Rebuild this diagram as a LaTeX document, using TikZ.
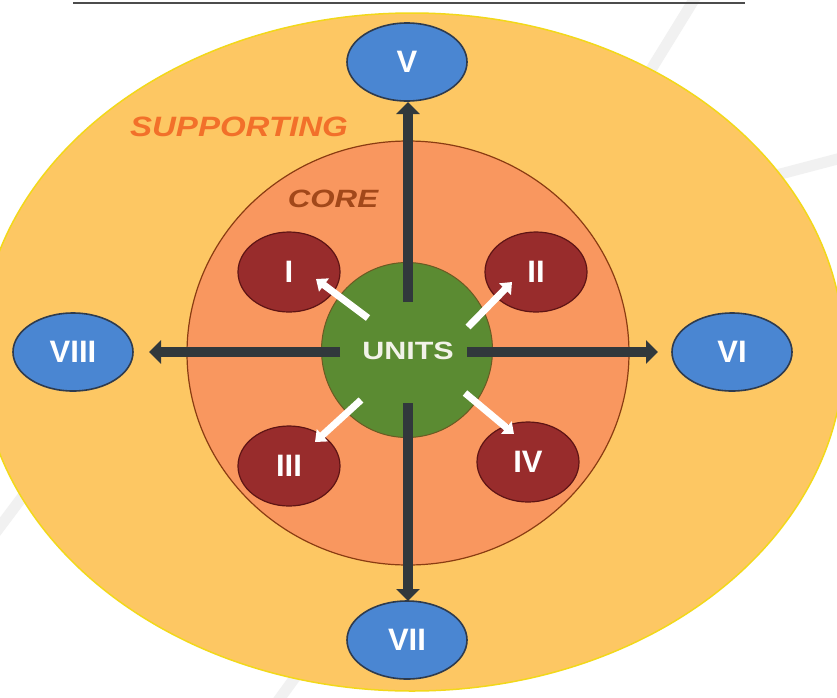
\documentclass[tikz,border=0pt]{standalone}
\usepackage{fontspec}
\setmainfont{Liberation Sans}
\usepackage{graphicx}
\usetikzlibrary{shapes.geometric,arrows.meta}
\definecolor{outery}{HTML}{FDC763}
\definecolor{outeredge}{HTML}{F2D81A}
\definecolor{coreor}{HTML}{F9975F}
\definecolor{coreedge}{HTML}{8A3C12}
\definecolor{unitgreen}{HTML}{5B8B32}
\definecolor{unitedge}{HTML}{6B5A22}
\definecolor{redunit}{HTML}{982C2C}
\definecolor{rededge}{HTML}{5E1414}
\definecolor{blueunit}{HTML}{4A86D2}
\definecolor{blueedge}{HTML}{2E3B4E}
\definecolor{darkarrow}{HTML}{31383C}
\definecolor{supcol}{HTML}{F2702A}
\definecolor{corecol}{HTML}{A2481A}
\definecolor{wm}{HTML}{F1F1F1}
\tikzset{
  redell/.style={ellipse, fill=redunit, draw=rededge, line width=1.2pt, minimum width=102pt, minimum height=80pt, inner sep=0pt, text=white, font=\fontsize{31}{31}\selectfont\bfseries},
  blueell/.style={ellipse, fill=blueunit, draw=blueedge, line width=1.6pt, minimum width=120pt, minimum height=78pt, inner sep=0pt, text=white, font=\fontsize{31}{31}\selectfont\bfseries},
  darkarr/.style={draw=darkarrow, line width=10pt, -{Triangle[width=23pt,length=12pt]}},
  whitearr/.style={draw=white, line width=7pt, -{Triangle[width=16pt,length=10pt]}},
  wmband/.style={draw=wm, line width=11pt}
}
\begin{document}
\begin{tikzpicture}[x=1pt,y=-1pt]
\useasboundingbox (0,0) rectangle (837,697);
\fill[white] (0,0) rectangle (837,697);
% faint watermark bands
\draw[wmband] (700,-10) -- (620,120);
\draw[wmband] (845,157) -- (750,182);
\draw[wmband] (-10,540) -- (50,460);
\draw[wmband] (275,705) -- (315,650);
% top rule
\draw[draw=black!70, line width=2pt] (73,3) -- (745,3);
% outer supporting ellipse
\node (outer) [ellipse, fill=outery, draw=outeredge, line width=1.5pt, minimum width=864pt, minimum height=678pt, inner sep=0pt] at (412,352) {};
% core
\node (core) [ellipse, fill=coreor, draw=coreedge, line width=1.2pt, minimum width=442pt, minimum height=424pt, inner sep=0pt] at (408,353) {};
% labels
\node (sup) at (239,127) {\scalebox{1.18}[1]{\fontsize{28}{28}\selectfont\bfseries\itshape\color{supcol}SUPPORTING}};
\node (corelbl) at (333,199) {\scalebox{1.25}[1]{\fontsize{25}{25}\selectfont\bfseries\itshape\color{corecol}CORE}};
% units
\node (units) [ellipse, fill=unitgreen, draw=unitedge, line width=1pt, minimum width=171pt, minimum height=175pt, inner sep=0pt] at (407,350) {};
\node (unitslbl) at (408,351) {\scalebox{1.22}[1]{\fontsize{25}{25}\selectfont\bfseries\color[HTML]{F2F2E8}UNITS}};
% core units
\node (I) [redell] at (289,272) {I};
\node (II) [redell] at (536,272) {II};
\node (III) [redell] at (289,466) {III};
\node (IV) [redell] at (528,462) {IV};
% supporting units
\node (V) [blueell] at (407,62) {V};
\node (VI) [blueell] at (732,352) {VI};
\node (VII) [blueell] at (407,640) {VII};
\node (VIII) [blueell] at (73,352) {VIII};
% arrow end points
\coordinate (sN) at (408,302);
\coordinate (sS) at (408,403);
\coordinate (sW) at (340,352);
\coordinate (sE) at (467,352);
\coordinate (eN) at (408,102);
\coordinate (eS) at (408,601);
\coordinate (eW) at (149,352);
\coordinate (eE) at (658,352);
\draw[darkarr] (sN) -- (eN);
\draw[darkarr] (sS) -- (eS);
\draw[darkarr] (sW) -- (eW);
\draw[darkarr] (sE) -- (eE);
% white arrows
\coordinate (w1s) at (368,318);
\coordinate (w1e) at (316,279);
\coordinate (w2s) at (468,327);
\coordinate (w2e) at (512,282);
\coordinate (w3s) at (361,400);
\coordinate (w3e) at (315,442);
\coordinate (w4s) at (465,393);
\coordinate (w4e) at (514,434);
\draw[whitearr] (w1s) -- (w1e);
\draw[whitearr] (w2s) -- (w2e);
\draw[whitearr] (w3s) -- (w3e);
\draw[whitearr] (w4s) -- (w4e);
\end{tikzpicture}
\end{document}
